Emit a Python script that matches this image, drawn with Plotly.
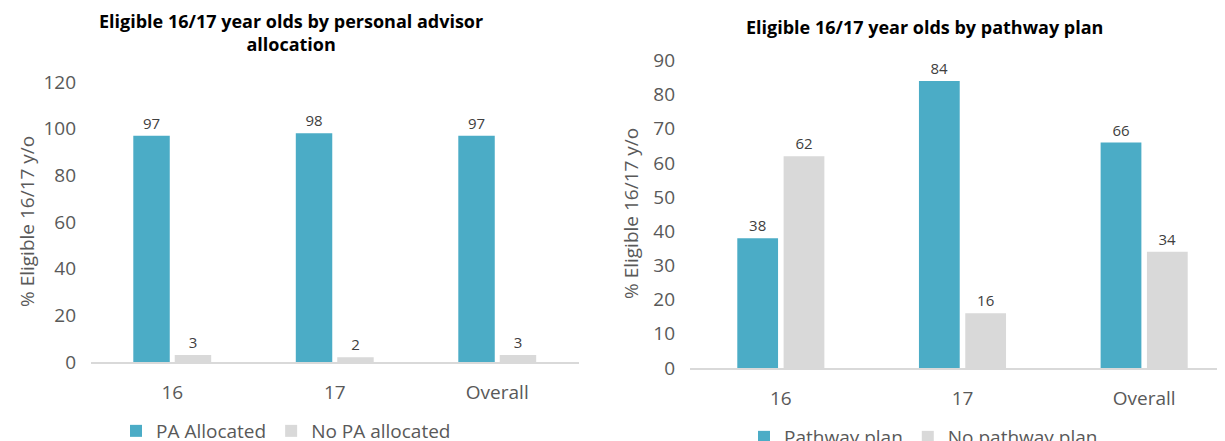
import plotly.graph_objects as go

categories = ["16", "17", "Overall"]

pa_allocated = [97, 98, 97]
no_pa_allocated = [3, 2, 3]

pathway_plan = [38, 84, 66]
no_pathway_plan = [62, 16, 34]

left_title = "Eligible 16/17 year olds by personal advisor<br>allocation"
right_title = "Eligible 16/17 year olds by pathway plan"
y_title = "% Eligible 16/17 y/o"

TEAL = "#4BACC6"
GREY = "#D9D9D9"
FONT = "Open Sans"
W, H = 1225, 441
OFF = 8  # page body margin offset

def px(x):
    return (x - OFF) / W

def py(y):
    return 1 - (y - OFF) / H

fig = go.Figure()

def add_bar(x, y, name, color, xa, ya, legend):
    fig.add_trace(go.Bar(
        x=x, y=y, name=name, marker=dict(color=color, line=dict(width=0)),
        text=[str(v) for v in y], textposition="outside",
        textfont=dict(size=15, color="#404040", family=FONT),
        cliponaxis=False, xaxis=xa, yaxis=ya, legend=legend,
    ))

add_bar(categories, pa_allocated, "PA Allocated", TEAL, "x", "y", "legend")
add_bar(categories, no_pa_allocated, "No PA allocated", GREY, "x", "y", "legend")
add_bar(categories, pathway_plan, "Pathway plan", TEAL, "x2", "y2", "legend2")
add_bar(categories, no_pathway_plan, "No pathway plan", GREY, "x2", "y2", "legend2")

axis_font = dict(size=19, color="#595959", family=FONT)

right_end = W + OFF  # screen x where paper x=1 lands
fig.update_layout(
    template="none",
    width=W, height=H,
    margin=dict(l=0, r=0, t=0, b=0, pad=0, autoexpand=False),
    paper_bgcolor="white", plot_bgcolor="white",
    barmode="group", bargap=0.49, bargroupgap=0.12,
    font=dict(family=FONT, color="#595959"),
    xaxis=dict(domain=[px(91), px(578.5)], anchor="y", type="category",
               range=[-0.5, 2.5], showline=True, linecolor=GREY, linewidth=1.5,
               ticks="", tickfont=axis_font, showgrid=False, ticklabelstandoff=12,
               automargin=False, zeroline=False),
    yaxis=dict(domain=[py(362), py(82)], anchor="x", range=[0, 120], dtick=20,
               showgrid=False, zeroline=False, showline=False, ticks="",
               tickfont=axis_font, ticklabelstandoff=14, automargin=False),
    xaxis2=dict(domain=[px(690), 1.0], anchor="y2", type="category",
                range=[-0.5, 2.5 - (1235 - right_end) / 181.75], showline=True,
                linecolor=GREY, linewidth=1.5, ticks="", tickfont=axis_font,
                showgrid=False, ticklabelstandoff=12, automargin=False, zeroline=False),
    yaxis2=dict(domain=[py(368), py(60.5)], anchor="x2", range=[0, 90], dtick=10,
                showgrid=False, zeroline=False, showline=False, ticks="",
                tickfont=axis_font, ticklabelstandoff=14, automargin=False),
    legend=dict(orientation="h", x=px(116), y=py(431), xanchor="left", yanchor="middle",
                font=dict(size=19, color="#595959", family=FONT),
                bgcolor="rgba(0,0,0,0)", itemwidth=30, traceorder="normal"),
    legend2=dict(orientation="h", x=px(744), y=py(437), xanchor="left", yanchor="middle",
                 font=dict(size=19, color="#595959", family=FONT),
                 bgcolor="rgba(0,0,0,0)", itemwidth=30, traceorder="normal"),
    showlegend=True,
)

title_font = dict(size=18, color="#000000", family=FONT)
fig.add_annotation(text="<b>" + left_title.replace("<br>", "</b><br><b>") + "</b>",
                   x=px(291), y=py(33), xref="paper", yref="paper",
                   xanchor="center", yanchor="middle",
                   showarrow=False, font=title_font, align="center")
fig.add_annotation(text="<b>" + right_title + "</b>",
                   x=px(924), y=py(27), xref="paper", yref="paper",
                   xanchor="center", yanchor="middle",
                   showarrow=False, font=title_font, align="center")
fig.add_annotation(text=y_title, textangle=-90, x=px(27), y=py(222),
                   xref="paper", yref="paper", showarrow=False,
                   xanchor="center", yanchor="middle",
                   font=dict(size=19, color="#595959", family=FONT))
fig.add_annotation(text=y_title, textangle=-90, x=px(631), y=py(214),
                   xref="paper", yref="paper", showarrow=False,
                   xanchor="center", yanchor="middle",
                   font=dict(size=19, color="#595959", family=FONT))

fig.write_html("out.html")
